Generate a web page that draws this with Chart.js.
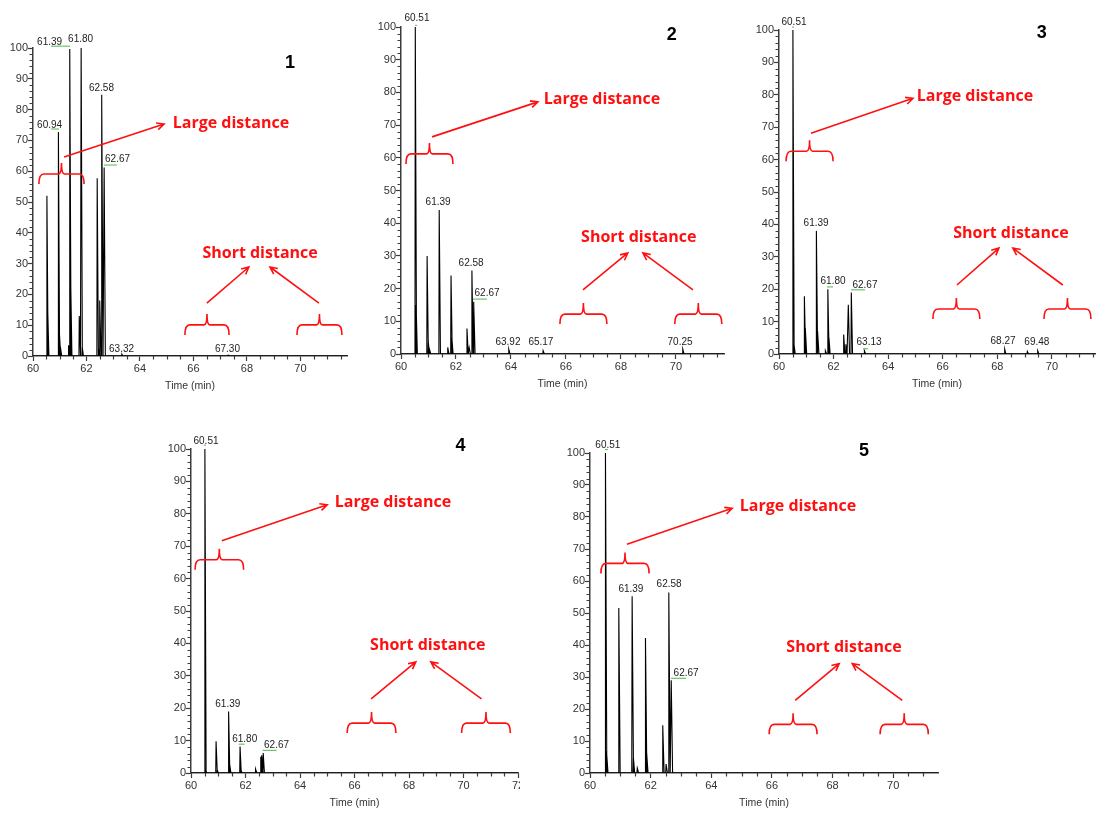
<!DOCTYPE html>
<html>
<head>
<meta charset="utf-8">
<script src="https://cdn.jsdelivr.net/npm/chart.js@4.4.1/dist/chart.umd.min.js"></script>
<style>
  body { margin:0; background:#fff; width:1097px; height:814px; overflow:hidden; position:relative; }
  canvas { position:absolute; }
</style>
</head>
<body>
<canvas id="c1"></canvas>
<canvas id="c2"></canvas>
<canvas id="c3"></canvas>
<canvas id="c4"></canvas>
<canvas id="c5"></canvas>
<script>
// peaks: [retention time (min), relative abundance]
const peaks1 = [[60.52,52],[60.55,15],[60.95,72.7],[60.99,8],[61.03,3],[61.33,3.5],[61.38,99.7],[61.41,24],
                [61.73,13],[61.80,100],[61.84,3],[62.40,57.7],[62.46,2],[62.50,18],[62.575,84.8],[62.66,61.2],[63.32,0.6],[67.30,0.3]];
const peaks2 = [[60.52,100],[60.55,15],[60.95,30],[60.99,4],[61.04,1.5],[61.39,44],[61.70,2],[61.82,24],[61.85,5],
                [62.40,7.8],[62.48,2],[62.58,25.5],[62.65,16],[63.92,1.5],[65.17,1],[70.25,1.5]];
const peaks3 = [[60.51,100],[60.55,3],[60.93,17.8],[60.97,8],[61.37,38],[61.42,7],[61.70,1],[61.79,20],[61.83,5],
                [62.37,6],[62.45,3],[62.54,15.2],[62.65,19],[63.13,1],[68.27,1.5],[69.10,0.8],[69.48,1]];
const peaks4 = [[60.51,100],[60.55,0.6],[60.92,9.8],[60.96,1],[61.38,19],[61.42,3],[61.80,8.2],[61.83,1],
                [62.37,1.2],[62.56,5],[62.60,5.5],[62.65,6.2]];
const peaks5 = [[60.51,100],[60.55,6.9],[60.95,51.6],[61.39,55.2],[61.43,5],[61.56,1.5],[61.83,42.2],[61.87,7],
                [62.40,14.9],[62.51,2.8],[62.60,56.4],[62.68,29]];

// peak labels
const tags1 = ['61.39','61.80','60.94','62.58','62.67','63.32','67.30'];
const tags2 = ['60.51','61.39','62.58','62.67','63.92','65.17','70.25'];
const tags3 = ['60.51','61.39','61.80','62.67','63.13','68.27','69.48'];
const tags4 = ['60.51','61.39','61.80','62.67'];
const tags5 = ['60.51','61.39','62.58','62.67'];

const xTicks = [60,62,64,66,68,70,72];
const yTicks = [0,10,20,30,40,50,60,70,80,90,100];

// label spots (data units) and green leader lines [x1,x2,y]
const tagPos1 = [[60.62,101.9],[61.78,102.9],[60.62,75.0],[62.56,87.0],[63.16,64.0],[63.31,2.3],[67.27,2.3]];
const tagPos2 = [[60.58,102.8],[61.35,46.5],[62.55,27.8],[63.13,18.7],[63.89,3.7],[65.09,3.7],[70.15,3.7]];
const tagPos3 = [[60.55,102.5],[61.36,40.5],[61.98,22.3],[63.15,21.1],[63.30,3.5],[68.21,3.8],[69.45,3.5]];
const tagPos4 = [[60.55,102.4],[61.35,21.2],[61.97,10.4],[63.14,8.6]];
const tagPos5 = [[60.59,102.4],[61.35,57.4],[62.61,58.9],[63.17,31.1]];
const leaders1 = [[60.67,61.38,100.6],[60.67,60.97,73.7],[62.65,63.14,62.0]];
const leaders2 = [[60.51,60.58,100.5],[62.62,63.13,16.8]];
const leaders3 = [[60.48,60.55,100.9],[61.76,61.98,20.7],[62.64,63.15,19.8],[63.08,63.26,1.6]];
const leaders4 = [[60.47,60.55,101.2],[61.75,61.97,8.9],[62.63,63.14,7.0]];
const leaders5 = [[60.50,60.59,101.1],[62.67,63.17,29.6]];

// red notes, data units
const notes1 = {num:[69.61,95.1], large:[67.40,75.6], largeArrow:[61.16,64.6,64.90,75.3], largeBrace:[60.22,61.91,59.1],
  short:[68.49,33.4], shortArrows:[[66.50,17.2,68.07,28.9],[70.69,17.2,68.86,28.9]], shortBraces:[[65.68,67.33,10.1],[69.87,71.55,10.1]]};
const notes2 = {num:[69.85,97.6], large:[67.31,77.7], largeArrow:[61.13,66.4,64.98,77.1], largeBrace:[60.18,61.89,61.2],
  short:[68.65,35.5], shortArrows:[[66.62,19.6,68.25,30.9],[70.62,19.6,68.80,30.9]], shortBraces:[[65.78,67.49,12.2],[69.96,71.67,12.2]]};
const notes3 = {num:[69.63,99.1], large:[67.18,79.6], largeArrow:[61.17,68.1,64.91,78.9], largeBrace:[60.26,61.98,62.6],
  short:[68.50,37.3], shortArrows:[[66.52,21.3,68.06,32.7],[70.40,21.3,68.57,32.7]], shortBraces:[[65.64,67.36,13.9],[69.71,71.43,13.9]]};
const notes4 = {num:[69.89,100.9], large:[67.41,83.4], largeArrow:[61.13,71.7,65.0,82.8], largeBrace:[60.15,61.93,65.8],
  short:[68.69,39.5], shortArrows:[[66.61,22.9,68.25,34.3],[70.66,22.9,68.80,34.3]], shortBraces:[[65.73,67.52,15.4],[69.93,71.72,15.4]]};
const notes5 = {num:[69.04,100.5], large:[66.86,83.3], largeArrow:[61.22,71.5,64.69,82.7], largeBrace:[60.36,61.95,65.5],
  short:[68.38,39.2], shortArrows:[[66.77,22.7,68.22,34.2],[70.30,22.7,68.65,34.2]], shortBraces:[[65.91,67.49,15.2],[69.57,71.16,15.2]]};

// plot boxes on the page
const AXW = 34, PADT = 26, XAH = 36;
const panels = [
  {id:'c1', n:'1', left:33,  top:48,  right:347,  bottom:356, xMax:71.74, padR:14, peaks:peaks1, tags:tags1, pos:tagPos1, leaders:leaders1, notes:notes1},
  {id:'c2', n:'2', left:401, top:27,  right:724,  bottom:354, xMax:71.75, padR:14, peaks:peaks2, tags:tags2, pos:tagPos2, leaders:leaders2, notes:notes2},
  {id:'c3', n:'3', left:779, top:30,  right:1095, bottom:354, xMax:71.58, padR:14, peaks:peaks3, tags:tags3, pos:tagPos3, leaders:leaders3, notes:notes3},
  {id:'c4', n:'4', left:191, top:449, right:518,  bottom:773, xMax:72,    padR:2,  peaks:peaks4, tags:tags4, pos:tagPos4, leaders:leaders4, notes:notes4},
  {id:'c5', n:'5', left:590, top:453, right:938,  bottom:773, xMax:71.48, padR:14, peaks:peaks5, tags:tags5, pos:tagPos5, leaders:leaders5, notes:notes5}
];

const RED = '#ff1010';
const AXIS = '#3c3c3c';
const FONT = '"Liberation Sans", Arial, sans-serif';
const LEFT_W = 0.012, RIGHT_W = 0.045;

// spike trace from the peak list
function trace(peaks) {
  const pts = [{x:59, y:0}];
  peaks.forEach(([t,h]) => {
    pts.push({x:t-LEFT_W, y:0}, {x:t, y:h}, {x:t+RIGHT_W, y:0});
  });
  pts.push({x:80, y:0});
  return pts;
}

function arrow(ctx, x1, y1, x2, y2) {
  const a = Math.atan2(y2-y1, x2-x1), L = 8;
  ctx.beginPath();
  ctx.moveTo(x1, y1); ctx.lineTo(x2, y2);
  ctx.moveTo(x2 - L*Math.cos(a-0.45), y2 - L*Math.sin(a-0.45));
  ctx.lineTo(x2, y2);
  ctx.lineTo(x2 - L*Math.cos(a+0.45), y2 - L*Math.sin(a+0.45));
  ctx.stroke();
}

function brace(ctx, x1, x2, yy) {
  const xm = (x1+x2)/2;
  ctx.beginPath();
  ctx.moveTo(x1, yy+10);
  ctx.quadraticCurveTo(x1, yy, x1+5, yy);
  ctx.lineTo(xm-3, yy);
  ctx.quadraticCurveTo(xm, yy, xm, yy-11);
  ctx.quadraticCurveTo(xm, yy, xm+3, yy);
  ctx.lineTo(x2-5, yy);
  ctx.quadraticCurveTo(x2, yy, x2, yy+10);
  ctx.stroke();
}

const overlay = {
  id: 'overlay',
  afterDraw(chart) {
    const p = chart.options.plugins.overlay.panel;
    const {ctx} = chart;
    const xs = chart.scales.x, ys = chart.scales.y;
    const X = v => xs.getPixelForValue(v), Y = v => ys.getPixelForValue(v);
    ctx.save();

    // minor ticks
    ctx.strokeStyle = AXIS; ctx.lineWidth = 1.2;
    ctx.beginPath();
    for (let i = 121; i <= p.xMax*2; i++) {
      if (i % 4 === 0) continue;
      const px = Math.round(X(i/2)) + 0.5;
      ctx.moveTo(px, ys.bottom); ctx.lineTo(px, ys.bottom + 3.5);
    }
    for (let v = 2; v < 100; v += 2) {
      if (v % 10 === 0) continue;
      const py = Math.round(Y(v)) + 0.5;
      ctx.moveTo(xs.left, py); ctx.lineTo(xs.left - 3.5, py);
    }
    ctx.stroke();

    // green leaders
    ctx.strokeStyle = '#4cb84c'; ctx.lineWidth = 1;
    p.leaders.forEach(([a,b,v]) => {
      ctx.beginPath(); ctx.moveTo(X(a), Y(v)); ctx.lineTo(X(b), Y(v)); ctx.stroke();
    });

    // peak labels
    ctx.fillStyle = '#222';
    ctx.font = '10px ' + FONT;
    ctx.textAlign = 'center'; ctx.textBaseline = 'middle';
    p.tags.forEach((t,i) => ctx.fillText(t, X(p.pos[i][0]), Y(p.pos[i][1])));

    // panel number
    ctx.fillStyle = '#000';
    ctx.font = 'bold 18px ' + FONT;
    ctx.fillText(p.n, X(p.notes.num[0]), Y(p.notes.num[1]));

    // red notes
    const nt = p.notes;
    ctx.fillStyle = RED; ctx.strokeStyle = RED; ctx.lineWidth = 1.6;
    ctx.font = 'bold 16px "Open Sans", sans-serif';
    ctx.fillText('Large distance', X(nt.large[0]), Y(nt.large[1]));
    ctx.fillText('Short distance', X(nt.short[0]), Y(nt.short[1]));
    const la = nt.largeArrow;
    arrow(ctx, X(la[0]), Y(la[1]), X(la[2]), Y(la[3]));
    nt.shortArrows.forEach(a => arrow(ctx, X(a[0]), Y(a[1]), X(a[2]), Y(a[3])));
    brace(ctx, X(nt.largeBrace[0]), X(nt.largeBrace[1]), Y(nt.largeBrace[2]));
    nt.shortBraces.forEach(b => brace(ctx, X(b[0]), X(b[1]), Y(b[2])));
    ctx.restore();
  }
};

panels.forEach(p => {
  const cv = document.getElementById(p.id);
  cv.width = p.right - p.left + AXW + p.padR;
  cv.height = p.bottom - p.top + PADT + XAH;
  cv.style.left = (p.left - AXW) + 'px';
  cv.style.top = (p.top - PADT) + 'px';

  new Chart(cv.getContext('2d'), {
    type: 'line',
    data: { datasets: [{ data: trace(p.peaks), borderColor:'#000', borderWidth:1.1, pointRadius:0, tension:0, fill:false }] },
    options: {
      responsive:false, animation:false, events:[],
      layout: { padding: { top:PADT, right:p.padR, left:0, bottom:0 } },
      plugins: { legend:{display:false}, tooltip:{enabled:false}, overlay:{panel:p} },
      scales: {
        x: {
          type:'linear', min:60, max:p.xMax,
          border: { color:AXIS, width:1.5 },
          grid: { drawOnChartArea:false, tickLength:5, tickColor:AXIS, tickWidth:1.2 },
          afterBuildTicks: s => { s.ticks = xTicks.filter(v => v <= p.xMax).map(v => ({value:v})); },
          ticks: { font:{size:11, family:FONT}, color:'#333', padding:1, maxRotation:0, autoSkip:false },
          title: { display:true, text:'Time (min)', font:{size:10.5, family:FONT}, color:'#333', padding:0 },
          afterFit: s => { s.height = XAH; s.paddingLeft = 0; s.paddingRight = 0; }
        },
        y: {
          min:0, max:100,
          border: { color:AXIS, width:1.5 },
          grid: { drawOnChartArea:false, tickLength:5, tickColor:AXIS, tickWidth:1.2 },
          afterBuildTicks: s => { s.ticks = yTicks.map(v => ({value:v})); },
          ticks: { font:{size:11, family:FONT}, color:'#333', padding:0 },
          afterFit: s => { s.width = AXW; s.paddingTop = 0; s.paddingBottom = 0; }
        }
      }
    },
    plugins: [overlay]
  });
});
</script>
</body>
</html>
